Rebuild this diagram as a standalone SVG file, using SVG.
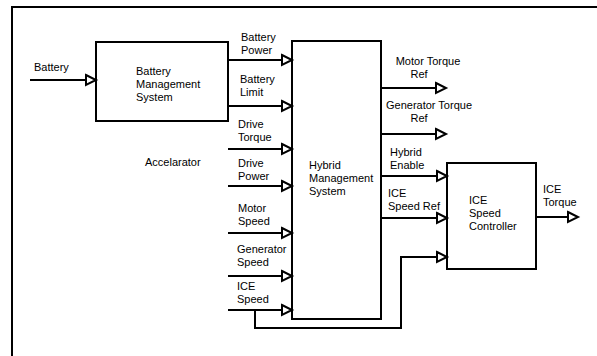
<svg xmlns="http://www.w3.org/2000/svg" width="597" height="356" viewBox="0 0 597 356">
<defs>
<style>
.box{fill:#fff;stroke:#000;stroke-width:2}
.ln{fill:none;stroke:#000;stroke-width:2;marker-end:url(#arr)}
text{font-family:'Liberation Sans',Arial,sans-serif;font-size:11px;fill:#000}
.frame{fill:none;stroke:#000;stroke-width:2}
</style>
<marker id="arr" markerUnits="userSpaceOnUse" markerWidth="14" markerHeight="14" refX="11" refY="6" orient="auto" viewBox="0 0 14 12">
<path d="M1,1 L11,6 L1,11 Z" fill="#fff" stroke="#000" stroke-width="2"/>
</marker>
</defs>
<rect width="597" height="356" fill="#fff"/>
<path class="frame" d="M12,360 V7 H600"/>
<g id="bms">
<rect class="box" x="96" y="42" width="132" height="79"/>
<text x="136" y="75">Battery</text>
<text x="136" y="88">Management</text>
<text x="136" y="101">System</text>
</g>
<g id="hms">
<rect class="box" x="292" y="41" width="89" height="278"/>
<text x="309" y="169">Hybrid</text>
<text x="309" y="182">Management</text>
<text x="309" y="195">System</text>
</g>
<g id="ice">
<rect class="box" x="447" y="163" width="89" height="106"/>
<text x="469" y="204">ICE</text>
<text x="469" y="217">Speed</text>
<text x="469" y="230">Controller</text>
</g>
<g id="labels">
<text x="34" y="71">Battery</text>
<text x="241" y="41">Battery</text>
<text x="241" y="54">Power</text>
<text x="240" y="83">Battery</text>
<text x="240" y="96">Limit</text>
<text x="238" y="128">Drive</text>
<text x="238" y="141">Torque</text>
<text x="145" y="166">Accelarator</text>
<text x="238" y="167">Drive</text>
<text x="238" y="180">Power</text>
<text x="238" y="212">Motor</text>
<text x="238" y="225">Speed</text>
<text x="237" y="253">Generator</text>
<text x="237" y="266">Speed</text>
<text x="237" y="290">ICE</text>
<text x="237" y="303">Speed</text>
<text x="428" y="65" text-anchor="middle">Motor Torque</text>
<text x="419" y="78" text-anchor="middle">Ref</text>
<text x="429" y="109" text-anchor="middle">Generator Torque</text>
<text x="419" y="122" text-anchor="middle">Ref</text>
<text x="390" y="156">Hybrid</text>
<text x="390" y="169">Enable</text>
<text x="388" y="197">ICE</text>
<text x="388" y="210">Speed Ref</text>
<text x="543" y="193">ICE</text>
<text x="543" y="206">Torque</text>
</g>
<g id="connectors">
<path class="ln" d="M30,80 H96"/>
<path class="ln" d="M228,60 H292"/>
<path class="ln" d="M228,106 H292"/>
<path class="ln" d="M228,149 H292"/>
<path class="ln" d="M228,186 H292"/>
<path class="ln" d="M228,233 H292"/>
<path class="ln" d="M228,276 H292"/>
<path class="ln" d="M228,310 H292"/>
<path class="ln" d="M255,310 V328 H401 V257 H447"/>
<path class="ln" d="M381,88 H446"/>
<path class="ln" d="M381,134 H446"/>
<path class="ln" d="M381,176 H447"/>
<path class="ln" d="M381,218 H447"/>
<path class="ln" d="M536,217 H578"/>
</g>
</svg>
